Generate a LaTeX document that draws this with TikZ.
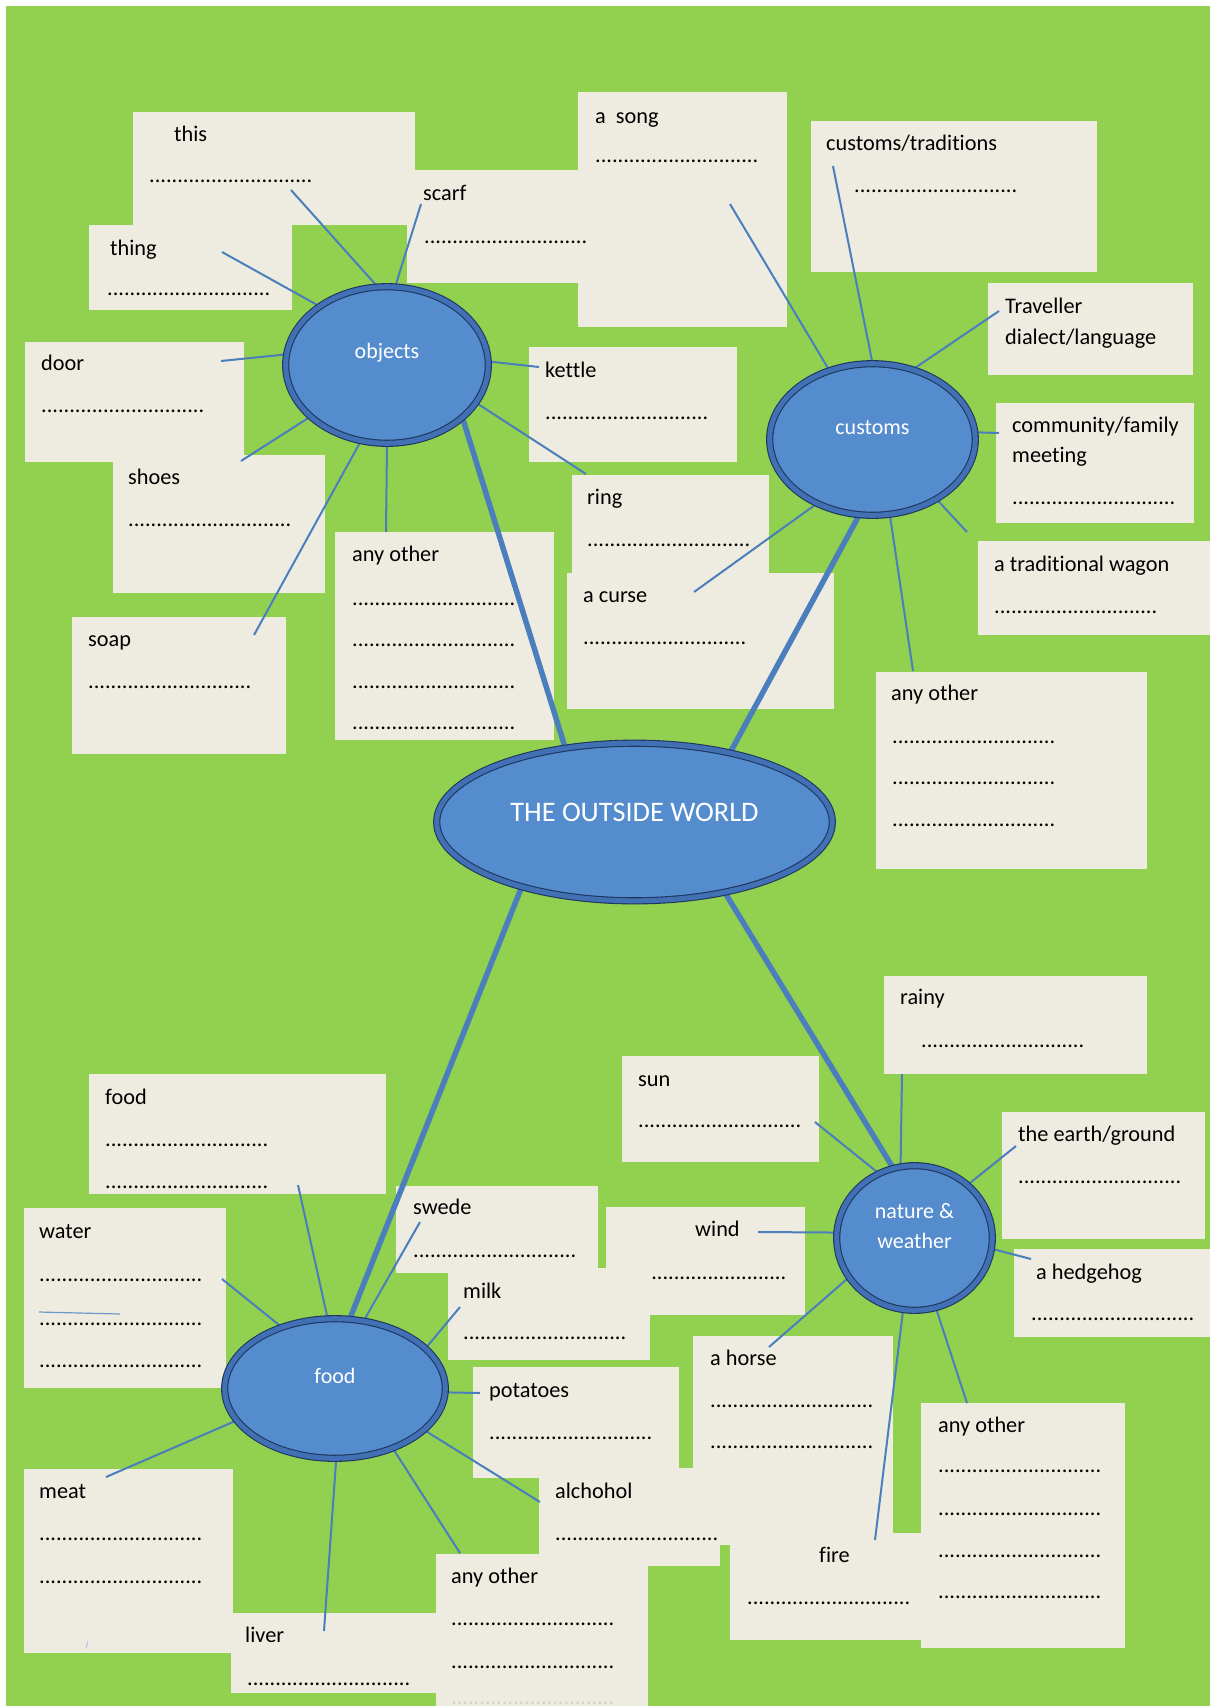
\documentclass[tikz,border=0pt]{standalone}
\usepackage{fontspec}
\setmainfont{Carlito}[Ligatures={NoCommon}]
\usepackage{tikz}
\usetikzlibrary{shapes.geometric, backgrounds}

\definecolor{leafgreen}{RGB}{146,208,80}
\definecolor{paper}{RGB}{238,236,225}
\definecolor{linkblue}{RGB}{74,126,188}
\definecolor{topicfill}{RGB}{84,140,206}
\definecolor{topicring}{RGB}{66,112,180}
\definecolor{topicedge}{RGB}{30,55,95}

\newcommand{\boxfont}{\fontsize{22.3pt}{30.5pt}\selectfont}
\newcommand{\topicfont}{\fontsize{22pt}{30.5pt}\selectfont}
\newcommand{\titlefont}{\fontsize{28.3pt}{34pt}\selectfont}
\newcommand{\dotrun}{.............................}

\pgfdeclarelayer{boxes}
\pgfdeclarelayer{links}
\pgfsetlayers{boxes,links,main}

\tikzset{
  box/.style={rectangle, fill=paper, inner sep=0pt, anchor=north west},
  txt/.style={anchor=base west, inner sep=0pt, font=\boxfont, text=black},
  topic/.style={ellipse, fill=topicfill, draw=topicedge, line width=1.1pt,
                double=topicring, double distance=5pt, inner sep=0pt},
  topiclbl/.style={text=white, font=\topicfont, inner sep=0pt, align=center},
  link/.style={draw=linkblue, line width=2pt},
  hub/.style={draw=linkblue, line width=5.5pt}
}

\begin{document}
\begin{tikzpicture}[x=1pt, y=-1pt]
  \useasboundingbox (0,0) rectangle (1210,1706);

  % topics
  \node[topic, minimum width=395.6pt, minimum height=157.6pt] (world) at (634.5,822) {};
  \node[topiclbl, font=\titlefont] (worldLbl) at ([yshift=10pt]world.center) {THE OUTSIDE WORLD};
  \node[topic, minimum width=202.6pt, minimum height=156.6pt] (objects) at (387,365) {};
  \node[topiclbl] (objectsLbl) at ([yshift=12pt]objects.center) {objects};
  \node[topic, minimum width=205.6pt, minimum height=151.6pt] (customs) at (872.5,439.5) {};
  \node[topiclbl] (customsLbl) at ([yshift=12pt]customs.center) {customs};
  \node[topic, minimum width=155.6pt, minimum height=144.6pt] (nature) at (914.5,1238) {};
  \node[topiclbl] (natureLbl) at ([yshift=12pt]nature.center) {nature \&\\weather};
  \node[topic, minimum width=220.6pt, minimum height=139.6pt] (food) at (335,1388.5) {};
  \node[topiclbl] (foodLbl) at ([yshift=13pt]food.center) {food};

  \begin{pgfonlayer}{boxes}
  \fill[white] (0,0) rectangle (1210,1706);
  \fill[leafgreen] (6,6) rectangle (1210,1706);

  % objects
  \node[box, minimum width=282pt, minimum height=113pt] (this) at (133,112) {};
  \node[txt] (thisLbl) at (174,141) {this};
  \node[txt] (thisDots) at (149,182) {\dotrun};
  \node[box, minimum width=203pt, minimum height=85pt] (thing) at (89,225) {};
  \node[txt] (thingLbl) at (110,255) {thing};
  \node[txt] (thingDots) at (107,295) {\dotrun};
  \node[box, minimum width=209pt, minimum height=235pt] (song) at (578,92) {};
  \node[txt] (songLbl) at (595,123) {a\ \ song};
  \node[txt] (songDots) at (595,162) {\dotrun};
  \node[box, minimum width=193pt, minimum height=113pt] (scarf) at (407,170) {};
  \node[txt] (scarfLbl) at (423,200) {scarf};
  \node[txt] (scarfDots) at (424,243) {\dotrun};
  \node[box, minimum width=208pt, minimum height=115pt] (kettle) at (529,347) {};
  \node[txt] (kettleLbl) at (545,377) {kettle};
  \node[txt] (kettleDots) at (545,419) {\dotrun};
  \node[box, minimum width=197pt, minimum height=115pt] (ring) at (572,475) {};
  \node[txt] (ringLbl) at (587,504) {ring};
  \node[txt] (ringDots) at (587,546) {\dotrun};
  \node[box, minimum width=219pt, minimum height=120pt] (door) at (25,342) {};
  \node[txt] (doorLbl) at (41,370) {door};
  \node[txt] (doorDots) at (41,412) {\dotrun};
  \node[box, minimum width=212pt, minimum height=138pt] (shoes) at (113,455) {};
  \node[txt] (shoesLbl) at (128,484) {shoes};
  \node[txt] (shoesDots) at (128,526) {\dotrun};
  \node[box, minimum width=214pt, minimum height=137pt] (soap) at (72,617) {};
  \node[txt] (soapLbl) at (88,646) {soap};
  \node[txt] (soapDots) at (88,688) {\dotrun};
  \node[box, minimum width=219pt, minimum height=208pt] (anyObj) at (335,532) {};
  \node[txt] (anyObjLbl) at (352,561) {any other};
  \node[txt] (anyObjDotsA) at (352,605) {\dotrun};
  \node[txt] (anyObjDotsB) at (352,646) {\dotrun};
  \node[txt] (anyObjDotsC) at (352,688) {\dotrun};
  \node[txt] (anyObjDotsD) at (352,729) {\dotrun};

  % customs
  \node[box, minimum width=286pt, minimum height=151pt] (trad) at (811,121) {};
  \node[txt] (tradLbl) at (826,150) {customs/traditions};
  \node[txt] (tradDots) at (854,192) {\dotrun};
  \node[box, minimum width=205pt, minimum height=92pt] (trav) at (988,283) {};
  \node[txt] (travLblA) at (1005,313) {Traveller};
  \node[txt] (travLblB) at (1005,344) {dialect/language};
  \node[box, minimum width=198pt, minimum height=120pt] (comm) at (996,403) {};
  \node[txt] (commLblA) at (1012,432) {community/family};
  \node[txt] (commLblB) at (1012,462) {meeting};
  \node[txt] (commDots) at (1012,504) {\dotrun};
  \node[box, minimum width=232pt, minimum height=94pt] (wagon) at (978,541) {};
  \node[txt] (wagonLbl) at (994,571) {a traditional wagon};
  \node[txt] (wagonDots) at (994,613) {\dotrun};
  \node[box, minimum width=267pt, minimum height=136pt] (curse) at (567,573) {};
  \node[txt] (curseLbl) at (583,602) {a curse};
  \node[txt] (curseDots) at (583,644) {\dotrun};
  \node[box, minimum width=271pt, minimum height=197pt] (anyCus) at (876,672) {};
  \node[txt] (anyCusLbl) at (891,700) {any other};
  \node[txt] (anyCusDotsA) at (892,743) {\dotrun};
  \node[txt] (anyCusDotsB) at (892,784) {\dotrun};
  \node[txt] (anyCusDotsC) at (892,826) {\dotrun};

  % nature & weather
  \node[box, minimum width=263pt, minimum height=98pt] (rainy) at (884,976) {};
  \node[txt] (rainyLbl) at (900,1004) {rainy};
  \node[txt] (rainyDots) at (921,1047) {\dotrun};
  \node[box, minimum width=197pt, minimum height=106pt] (sun) at (622,1056) {};
  \node[txt] (sunLbl) at (638,1086) {sun};
  \node[txt] (sunDots) at (638,1127) {\dotrun};
  \node[box, minimum width=203pt, minimum height=127pt] (earth) at (1002,1112) {};
  \node[txt] (earthLbl) at (1018,1141) {the earth/ground};
  \node[txt] (earthDots) at (1018,1183) {\dotrun};
  \node[box, minimum width=196pt, minimum height=88pt] (hedge) at (1014,1249) {};
  \node[txt] (hedgeLbl) at (1036,1279) {a hedgehog};
  \node[txt] (hedgeDots) at (1031,1320) {\dotrun};
  \node[box, minimum width=199pt, minimum height=108pt] (wind) at (606,1207) {};
  \node[txt] (windLbl) at (695,1236) {wind};
  \node[txt] (windDots) at (623,1279) {\dotrun};
  \node[box, minimum width=200pt, minimum height=209pt] (horse) at (693,1336) {};
  \node[txt] (horseLbl) at (710,1365) {a horse};
  \node[txt] (horseDotsA) at (710,1407) {\dotrun};
  \node[txt] (horseDotsB) at (710,1448) {\dotrun};
  \node[box, minimum width=191pt, minimum height=107pt] (fire) at (730,1533) {};
  \node[txt] (fireLbl) at (819,1562) {fire};
  \node[txt] (fireDots) at (747,1604) {\dotrun};
  \node[box, minimum width=204pt, minimum height=245pt] (anyNat) at (921,1403) {};
  \node[txt] (anyNatLbl) at (938,1432) {any other};
  \node[txt] (anyNatDotsA) at (938,1472) {\dotrun};
  \node[txt] (anyNatDotsB) at (938,1515) {\dotrun};
  \node[txt] (anyNatDotsC) at (938,1557) {\dotrun};
  \node[txt] (anyNatDotsD) at (938,1598) {\dotrun};

  % food
  \node[box, minimum width=297pt, minimum height=120pt] (foodBox) at (89,1074) {};
  \node[txt] (foodBoxLbl) at (105,1104) {food};
  \node[txt] (foodBoxDotsA) at (105,1146) {\dotrun};
  \node[txt] (foodBoxDotsB) at (105,1188) {\dotrun};
  \node[box, minimum width=202pt, minimum height=180pt] (water) at (24,1208) {};
  \node[txt] (waterLbl) at (39,1238) {water};
  \node[txt] (waterDotsA) at (39,1281) {\dotrun};
  \node[txt] (waterDotsB) at (39,1325) {\dotrun};
  \node[txt] (waterDotsC) at (39,1367) {\dotrun};
  \node[box, minimum width=202pt, minimum height=87pt] (swede) at (396,1186) {};
  \node[txt] (swedeLbl) at (413,1214) {swede};
  \node[txt] (swedeDots) at (413,1257) {\dotrun};
  \node[box, minimum width=202pt, minimum height=92pt] (milk) at (448,1268) {};
  \node[txt] (milkLbl) at (463,1298) {milk};
  \node[txt] (milkDots) at (463,1339) {\dotrun};
  \node[box, minimum width=206pt, minimum height=111pt] (potatoes) at (473,1367) {};
  \node[txt] (potatoesLbl) at (489,1397) {potatoes};
  \node[txt] (potatoesDots) at (489,1439) {\dotrun};
  \node[box, minimum width=181pt, minimum height=98pt] (alc) at (539,1468) {};
  \node[txt] (alcLbl) at (555,1498) {alchohol};
  \node[txt] (alcDots) at (555,1540) {\dotrun};
  \node[box, minimum width=209pt, minimum height=184pt] (meat) at (24,1469) {};
  \node[txt] (meatLbl) at (39,1498) {meat};
  \node[txt] (meatDotsA) at (39,1540) {\dotrun};
  \node[txt] (meatDotsB) at (39,1583) {\dotrun};
  \node[box, minimum width=205pt, minimum height=80pt] (liver) at (231,1613) {};
  \node[txt] (liverLbl) at (245,1642) {liver};
  \node[txt] (liverDots) at (247,1685) {\dotrun};
  \node[box, minimum width=212pt, minimum height=152pt] (anyFood) at (436,1554) {};
  \node[txt] (anyFoodLbl) at (451,1583) {any other};
  \node[txt] (anyFoodDotsA) at (451,1625) {\dotrun};
  \node[txt] (anyFoodDotsB) at (451,1668) {\dotrun};
  \node[txt, text=black!18] (anyFoodDotsC) at (451,1704) {\dotrun};
  \end{pgfonlayer}

  \begin{pgfonlayer}{links}
  % free ends
  \coordinate (thisEnd) at (291,190);
  \coordinate (scarfEnd) at (421,204);
  \coordinate (thingEnd) at (222,252);
  \coordinate (doorEnd) at (221,361);
  \coordinate (shoesEnd) at (241,461);
  \coordinate (soapEnd) at (254,635);
  \coordinate (anyObjEnd) at (386,532);
  \coordinate (kettleEnd) at (539,367);
  \coordinate (ringEnd) at (586,474);
  \coordinate (songEnd) at (730,204);
  \coordinate (tradEnd) at (833,166);
  \coordinate (travEnd) at (999,311);
  \coordinate (commEnd) at (999,433);
  \coordinate (wagonEnd) at (967,532);
  \coordinate (anyCusEnd) at (913,671);
  \coordinate (curseEnd) at (694,592);
  \coordinate (rainyEnd) at (902,1074);
  \coordinate (sunEnd) at (815,1122);
  \coordinate (earthEnd) at (1016,1146);
  \coordinate (windEnd) at (758,1232);
  \coordinate (hedgeEnd) at (1031,1259);
  \coordinate (horseEnd) at (769,1347);
  \coordinate (fireEnd) at (875,1540);
  \coordinate (anyNatEnd) at (967,1403);
  \coordinate (foodBoxEnd) at (298,1185);
  \coordinate (swedeEnd) at (420,1222);
  \coordinate (waterEnd) at (222,1279);
  \coordinate (milkEnd) at (460,1307);
  \coordinate (potatoesEnd) at (480,1393);
  \coordinate (alcEnd) at (540,1502);
  \coordinate (anyFoodEnd) at (460,1553);
  \coordinate (liverEnd) at (324,1631);
  \coordinate (meatEnd) at (106,1477);
  \coordinate (strayA) at (39,1312);
  \coordinate (strayB) at (120,1314);
  \coordinate (tickA) at (86,1648);
  \coordinate (tickB) at (88,1641);

  \draw[hub] (world.133) -- (objects.325);
  \draw[hub] (world.36) -- (customs.260);
  \draw[hub] (world.322) -- (nature.107);
  \draw[hub] (world.210) -- (food.78);

  \draw[link] (objects.97) -- (thisEnd);
  \draw[link] (objects.84) -- (scarfEnd);
  \draw[link] (objects.139) -- (thingEnd);
  \draw[link] (objects.174) -- (doorEnd);
  \draw[link] (objects.214) -- (shoesEnd);
  \draw[link] (objects.251) -- (soapEnd);
  \draw[link] (objects.270) -- (anyObjEnd);
  \draw[link] (objects.2) -- (kettleEnd);
  \draw[link] (objects.337) -- (ringEnd);

  \draw[link] (customs.122) -- (songEnd);
  \draw[link] (customs.90) -- (tradEnd);
  \draw[link] (customs.60) -- (travEnd);
  \draw[link] (customs.4) -- (commEnd);
  \draw[link] (customs.317) -- (wagonEnd);
  \draw[link] (customs.283) -- (anyCusEnd);
  \draw[link] (customs.229) -- (curseEnd);

  \draw[link] (nature.101) -- (rainyEnd);
  \draw[link] (nature.119) -- (sunEnd);
  \draw[link] (nature.45) -- (earthEnd);
  \draw[link] (nature.176) -- (windEnd);
  \draw[link] (nature.352) -- (hedgeEnd);
  \draw[link] (nature.211) -- (horseEnd);
  \draw[link] (nature.261) -- (fireEnd);
  \draw[link] (nature.287) -- (anyNatEnd);

  \draw[link] (food.96) -- (foodBoxEnd);
  \draw[link] (food.67) -- (swedeEnd);
  \draw[link] (food.131) -- (waterEnd);
  \draw[link] (food.24) -- (milkEnd);
  \draw[link] (food.358) -- (potatoesEnd);
  \draw[link] (food.335) -- (alcEnd);
  \draw[link] (food.314) -- (anyFoodEnd);
  \draw[link] (food.271) -- (liverEnd);
  \draw[link] (food.198) -- (meatEnd);

  \draw[link, line width=1.2pt, draw=linkblue!80] (strayA) -- (strayB);
  \draw[link, line width=1pt, draw=linkblue!45] (tickA) -- (tickB);
  \end{pgfonlayer}
\end{tikzpicture}
\end{document}
